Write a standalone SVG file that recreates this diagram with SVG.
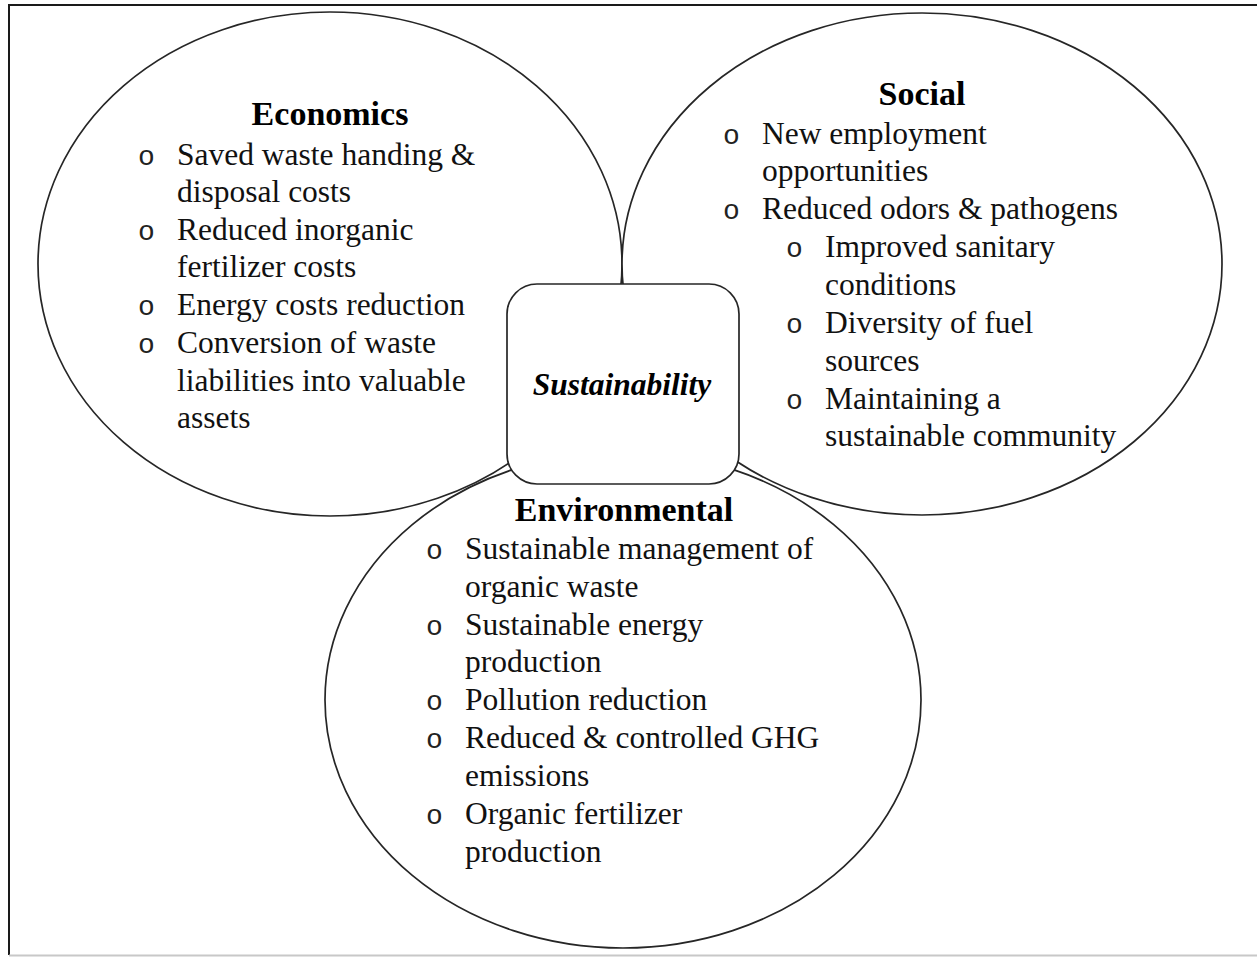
<svg xmlns="http://www.w3.org/2000/svg" width="1257" height="957" viewBox="0 0 1257 957">
  <style>
    .frame { fill: none; stroke: #1a1a1a; stroke-width: 2; }
    .circle { fill: #ffffff; stroke: #262626; stroke-width: 1.7; }
    .hub { fill: #ffffff; stroke: #262626; stroke-width: 1.7; }
    .title { font-family: "Liberation Serif", "Times New Roman", serif; font-weight: bold; font-size: 34px; fill: #000; text-anchor: middle; }
    .item { font-family: "Liberation Serif", "Times New Roman", serif; font-size: 31.5px; fill: #111; }
    .bul { font-family: "Liberation Mono", "Courier New", monospace; font-size: 28px; fill: #222; }
    .hubtext { font-family: "Liberation Serif", "Times New Roman", serif; font-weight: bold; font-style: italic; font-size: 31.5px; fill: #000; text-anchor: middle; }
  </style>

  <rect width="1257" height="957" fill="#ffffff"/>

  <!-- page frame -->
  <g id="frame">
    <path class="frame" d="M9,955 L9,5 L1257,5"/>
    <line x1="9" y1="955.5" x2="1257" y2="955.5" stroke="#c8c8c8" stroke-width="2"/>
  </g>

  <!-- Economics circle -->
  <g id="economics">
    <ellipse class="circle" cx="330" cy="264" rx="292" ry="252"/>
    <text class="title" x="330" y="125">Economics</text>
    <text class="bul" x="138" y="165">o</text>
    <text class="item" x="177" y="165">Saved waste handing &amp;</text>
    <text class="item" x="177" y="202">disposal costs</text>
    <text class="bul" x="138" y="240">o</text>
    <text class="item" x="177" y="240">Reduced inorganic</text>
    <text class="item" x="177" y="277">fertilizer costs</text>
    <text class="bul" x="138" y="315">o</text>
    <text class="item" x="177" y="315">Energy costs reduction</text>
    <text class="bul" x="138" y="353">o</text>
    <text class="item" x="177" y="353">Conversion of waste</text>
    <text class="item" x="177" y="391">liabilities into valuable</text>
    <text class="item" x="177" y="428">assets</text>
  </g>

  <!-- Social circle -->
  <g id="social">
    <ellipse class="circle" cx="922" cy="264" rx="300" ry="251"/>
    <text class="title" x="922" y="105">Social</text>
    <text class="bul" x="723" y="144">o</text>
    <text class="item" x="762" y="144">New employment</text>
    <text class="item" x="762" y="181">opportunities</text>
    <text class="bul" x="723" y="219">o</text>
    <text class="item" x="762" y="219">Reduced odors &amp; pathogens</text>
    <text class="bul" x="786" y="257">o</text>
    <text class="item" x="825" y="257">Improved sanitary</text>
    <text class="item" x="825" y="295">conditions</text>
    <text class="bul" x="786" y="333">o</text>
    <text class="item" x="825" y="333">Diversity of fuel</text>
    <text class="item" x="825" y="371">sources</text>
    <text class="bul" x="786" y="409">o</text>
    <text class="item" x="825" y="409">Maintaining a</text>
    <text class="item" x="825" y="446">sustainable community</text>
  </g>

  <!-- Environmental circle -->
  <g id="environmental">
    <ellipse class="circle" cx="623" cy="700" rx="298" ry="248"/>
    <text class="title" x="624" y="521">Environmental</text>
    <text class="bul" x="426" y="559">o</text>
    <text class="item" x="465" y="559">Sustainable management of</text>
    <text class="item" x="465" y="597">organic waste</text>
    <text class="bul" x="426" y="635">o</text>
    <text class="item" x="465" y="635">Sustainable energy</text>
    <text class="item" x="465" y="672">production</text>
    <text class="bul" x="426" y="710">o</text>
    <text class="item" x="465" y="710">Pollution reduction</text>
    <text class="bul" x="426" y="748">o</text>
    <text class="item" x="465" y="748">Reduced &amp; controlled GHG</text>
    <text class="item" x="465" y="786">emissions</text>
    <text class="bul" x="426" y="824">o</text>
    <text class="item" x="465" y="824">Organic fertilizer</text>
    <text class="item" x="465" y="862">production</text>
  </g>

  <!-- central hub -->
  <g id="sustainability">
    <rect class="hub" x="507" y="284" width="232" height="200" rx="30" ry="30"/>
    <text class="hubtext" x="622" y="395">Sustainability</text>
  </g>

  <g id="connectors"></g>
</svg>
